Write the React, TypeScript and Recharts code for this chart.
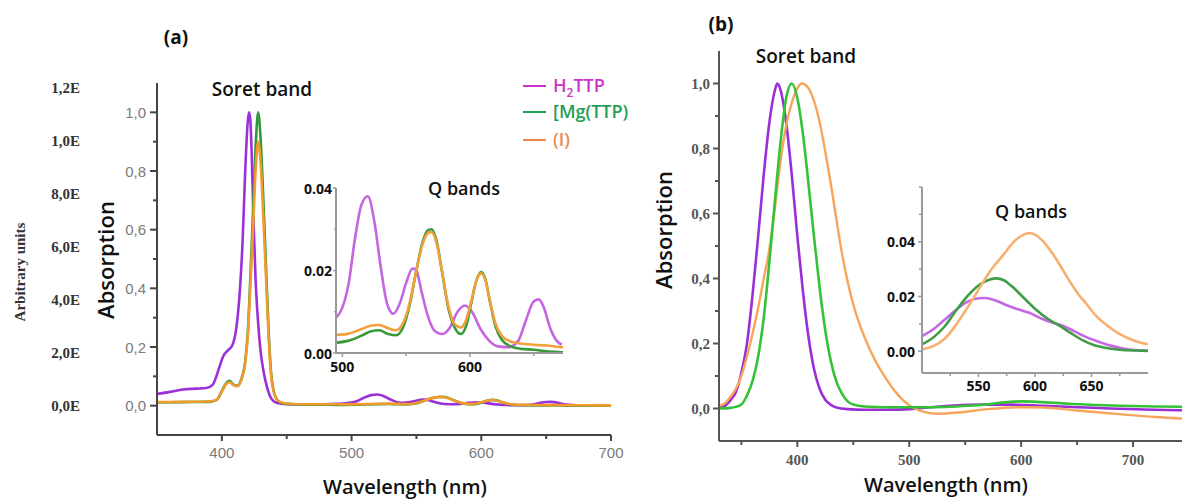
import React from "react";
import { LineChart, Line, XAxis, YAxis } from "recharts";

// ---------- panel (a), main plot: Soret region [nm, absorption] ----------
const A_SORET_H2TTP = [
  [350, 0.04], [360, 0.047], [370, 0.055], [380, 0.058], [388, 0.06], [393, 0.072],
  [398, 0.13], [401, 0.168], [405, 0.19], [408, 0.205], [411, 0.26], [414, 0.4],
  [416, 0.56], [418, 0.8], [420, 0.97], [421, 1.0], [422, 0.97], [423, 0.86],
  [424.5, 0.62], [426, 0.43], [428, 0.28], [430, 0.18], [432, 0.12], [435, 0.06],
  [438, 0.025], [442, 0.01], [450, 0.005], [470, 0.004], [488, 0.006],
];
const A_SORET_MG = [
  [350, 0.011], [370, 0.012], [390, 0.013], [396, 0.02], [400, 0.05], [403, 0.075],
  [406, 0.085], [409, 0.072], [412, 0.068], [415, 0.09], [418, 0.15], [420, 0.25],
  [422, 0.44], [424, 0.66], [426, 0.88], [428, 1.0], [430, 0.9], [432, 0.7],
  [434, 0.48], [436, 0.26], [438, 0.11], [440, 0.05], [443, 0.018], [448, 0.007],
  [460, 0.004], [480, 0.003],
];
const A_SORET_I = [
  [350, 0.012], [370, 0.013], [390, 0.014], [396, 0.02], [400, 0.048], [403, 0.072],
  [406, 0.08], [409, 0.07], [412, 0.066], [415, 0.088], [418, 0.145], [420, 0.24],
  [422, 0.41], [424, 0.6], [426, 0.8], [428, 0.9], [430, 0.82], [432, 0.64],
  [434, 0.44], [436, 0.24], [438, 0.1], [440, 0.048], [443, 0.018], [448, 0.008],
  [460, 0.005], [480, 0.005],
];

// ---------- panel (a), Q bands (inset, also the tail of the main plot) ----------
const A_Q_H2TTP = [
  [495, 0.0085], [500, 0.011], [505, 0.017], [510, 0.028], [515, 0.036], [520, 0.038],
  [525, 0.032], [530, 0.021], [535, 0.012], [540, 0.0095], [545, 0.012], [550, 0.017],
  [555, 0.0205], [558, 0.02], [562, 0.015], [567, 0.009], [572, 0.0055], [578, 0.0046],
  [584, 0.006], [590, 0.0098], [596, 0.0115], [602, 0.0098], [608, 0.006], [615, 0.003],
  [622, 0.0016], [630, 0.0014], [638, 0.003], [644, 0.008], [650, 0.0125], [654, 0.013],
  [658, 0.011], [663, 0.006], [668, 0.003], [672, 0.002],
];
const A_Q_MG = [
  [495, 0.0025], [505, 0.003], [515, 0.0042], [522, 0.0052], [529, 0.0055], [536, 0.0046],
  [542, 0.0043], [548, 0.0065], [553, 0.012], [558, 0.02], [563, 0.027], [567, 0.0298],
  [570, 0.03], [574, 0.027], [578, 0.02], [583, 0.011], [588, 0.0062], [593, 0.0046],
  [597, 0.0065], [601, 0.012], [605, 0.0175], [609, 0.0196], [612, 0.018], [616, 0.012],
  [620, 0.0065], [625, 0.0032], [632, 0.0016], [640, 0.001], [650, 0.0008], [660, 0.0004],
  [672, 0.0002], [700, 0.0],
];
const A_Q_I = [
  [495, 0.0044], [505, 0.0047], [515, 0.0058], [522, 0.0066], [529, 0.0068], [536, 0.006],
  [542, 0.0055], [548, 0.0075], [553, 0.0125], [558, 0.02], [563, 0.0265], [567, 0.029],
  [570, 0.0293], [574, 0.0265], [578, 0.02], [583, 0.0115], [588, 0.007], [593, 0.0062],
  [597, 0.008], [601, 0.0125], [605, 0.0175], [609, 0.0193], [612, 0.0178], [616, 0.0122],
  [620, 0.0072], [625, 0.0042], [632, 0.0028], [640, 0.0023], [650, 0.002], [660, 0.0018],
  [672, 0.0014], [690, 0.001], [700, 0.001],
];

// ---------- panel (b), main plot ----------
const B_H2TTP = [
  [330, 0.005], [335, 0.008], [340, 0.025], [345, 0.05], [350, 0.11], [355, 0.2],
  [360, 0.35], [365, 0.53], [370, 0.72], [375, 0.88], [380, 0.98], [382, 1.0],
  [385, 0.98], [390, 0.88], [395, 0.72], [400, 0.53], [405, 0.36], [410, 0.22],
  [415, 0.12], [420, 0.06], [425, 0.027], [430, 0.011], [435, 0.003], [445, -0.002],
  [460, -0.004], [480, -0.004], [500, -0.002], [520, 0.004], [540, 0.009], [565, 0.012],
  [590, 0.012], [620, 0.008], [650, 0.004], [680, 0.0], [710, -0.003], [750, -0.006],
];
const B_MG = [
  [330, 0.0], [340, 0.002], [345, 0.005], [350, 0.012], [355, 0.04], [360, 0.085],
  [365, 0.16], [370, 0.28], [375, 0.45], [380, 0.64], [385, 0.82], [390, 0.955],
  [395, 1.0], [400, 0.955], [405, 0.845], [410, 0.69], [415, 0.525], [420, 0.37],
  [425, 0.24], [430, 0.145], [435, 0.082], [440, 0.045], [445, 0.022], [450, 0.012],
  [460, 0.006], [480, 0.004], [520, 0.004], [560, 0.01], [600, 0.022], [640, 0.015],
  [680, 0.009], [720, 0.006], [750, 0.005],
];
const B_I = [
  [330, 0.008], [335, 0.015], [340, 0.035], [345, 0.06], [350, 0.1], [355, 0.16],
  [360, 0.23], [365, 0.31], [370, 0.4], [375, 0.49], [380, 0.62], [385, 0.76],
  [390, 0.87], [395, 0.94], [400, 0.985], [404, 1.0], [410, 0.985], [415, 0.945],
  [420, 0.88], [425, 0.79], [430, 0.69], [435, 0.58], [440, 0.475], [445, 0.39],
  [450, 0.32], [455, 0.265], [460, 0.22], [465, 0.18], [470, 0.145], [475, 0.115],
  [480, 0.088], [485, 0.063], [490, 0.042], [495, 0.024], [500, 0.01], [505, 0.0],
  [515, -0.012], [525, -0.016], [545, -0.012], [570, -0.002], [600, 0.004], [620, 0.003],
  [650, -0.006], [690, -0.018], [720, -0.026], [750, -0.032],
];

// ---------- panel (b), Q bands inset ----------
const B_Q_H2TTP = [
  [500, 0.0055], [510, 0.008], [520, 0.0115], [530, 0.015], [540, 0.018], [550, 0.0193],
  [556, 0.0194], [565, 0.0185], [575, 0.0168], [585, 0.0153], [595, 0.014], [605, 0.012],
  [615, 0.0105], [625, 0.0092], [635, 0.0072], [645, 0.0052], [655, 0.0036], [665, 0.0022],
  [675, 0.0012], [685, 0.0005], [700, 0.0002],
];
const B_Q_MG = [
  [500, 0.0025], [510, 0.005], [520, 0.009], [531, 0.0153], [540, 0.02], [550, 0.024],
  [560, 0.0262], [566, 0.0266], [572, 0.026], [580, 0.0235], [590, 0.0195], [600, 0.0155],
  [610, 0.0122], [622, 0.0092], [632, 0.0065], [642, 0.004], [652, 0.0022], [662, 0.0012],
  [675, 0.0005], [690, 0.0002], [700, 0.0001],
];
const B_Q_I = [
  [500, 0.0006], [510, 0.0018], [520, 0.0045], [530, 0.0095], [538, 0.0145], [545, 0.019],
  [553, 0.0245], [562, 0.0302], [572, 0.0352], [582, 0.0403], [590, 0.0426], [595, 0.0432],
  [600, 0.0426], [608, 0.0398], [615, 0.036], [622, 0.0315], [630, 0.026], [638, 0.021],
  [645, 0.0175], [655, 0.0125], [665, 0.009], [675, 0.0062], [688, 0.0038], [700, 0.0025],
];

// ---------- ticks ----------
const A_X_TICKS = [400, 450, 500, 550, 600, 650, 700];
const A_X_MAJOR = [400, 500, 600, 700];
const ABS_TICKS = [0, 0.1, 0.2, 0.3, 0.4, 0.5, 0.6, 0.7, 0.8, 0.9, 1.0];
const ABS_MAJOR = [0, 0.2, 0.4, 0.6, 0.8, 1.0];
const ARB_TICKS = [0, 2, 4, 6, 8, 10, 12];
const ARB_LABELS = ["0,0E", "2,0E", "4,0E", "6,0E", "8,0E", "1,0E", "1,2E"];
const B_X_TICKS = [350, 400, 450, 500, 550, 600, 650, 700, 750];
const B_X_MAJOR = [400, 500, 600, 700];
const AQ_X_TICKS = [500, 550, 600, 650];
const AQ_X_MAJOR = [500, 600];
const AQ_Y_TICKS = [0, 0.01, 0.02, 0.03, 0.04];
const BQ_X_TICKS = [525, 550, 575, 600, 625, 650, 675];
const BQ_X_MAJOR = [550, 600, 650];
const BQ_Y_TICKS = [0, 0.01, 0.02, 0.03, 0.04, 0.05, 0.06];
const Q_Y_MAJOR = [0, 0.02, 0.04];

const pts = (a: number[][]) => a.map(([x, y]) => ({ x, y }));
const comma = (v: number) => v.toFixed(1).replace(".", ",");

const SANS = "'Open Sans', 'Noto Sans', sans-serif";
const SERIF = "'Liberation Serif', 'DejaVu Serif', serif";

interface TickSpec {
  side: "left" | "bottom";
  majors: number[];
  labels?: string[];
  fmt?: (v: number) => string;
  major: number;
  minor: number;
  gap: number;
  line: string;
  lw: number;
  font: string;
  size: number;
  weight: number;
  fill: string;
}

const mkTick = (s: TickSpec) => (p: any) => {
  const v: number = p.payload.value;
  const k = s.majors.findIndex((m) => Math.abs(m - v) < 1e-6);
  const len = k >= 0 ? s.major : s.minor;
  const txt = k < 0 ? null : s.labels ? s.labels[k] : s.fmt ? s.fmt(v) : String(v);
  const t = { fontFamily: s.font, fontSize: s.size, fontWeight: s.weight, fill: s.fill };
  if (s.side === "left") {
    return (
      <g>
        {len > 0 && <line x1={p.x - len} x2={p.x} y1={p.y} y2={p.y} stroke={s.line} strokeWidth={s.lw} />}
        {txt && (
          <text x={p.x - len - s.gap} y={p.y} textAnchor="end" dominantBaseline="central" {...t}>
            {txt}
          </text>
        )}
      </g>
    );
  }
  return (
    <g>
      {len > 0 && <line x1={p.x} x2={p.x} y1={p.y} y2={p.y + len} stroke={s.line} strokeWidth={s.lw} />}
      {txt && (
        <text x={p.x} y={p.y + s.gap} textAnchor="middle" dominantBaseline="central" {...t}>
          {txt}
        </text>
      )}
    </g>
  );
};

const A_COL = { h2: "#9b30d8", mg: "#2f9a3a", i: "#f29a2e" };
const AQ_COL = { h2: "#c466e2", mg: "#3a9a3a", i: "#f2a03c" };
const B_COL = { h2: "#9a2fd8", mg: "#36c236", i: "#f7a55c" };
const BQ_COL = { h2: "#c468e6", mg: "#3f9e45", i: "#f6b070" };

const lineProps = { type: "monotone" as const, dataKey: "y", dot: false, isAnimationActive: false };

function PanelA() {
  return (
    <div style={{ position: "absolute", left: 0, top: 0 }}>
      <LineChart width={640} height={502} margin={{ top: 83, right: 29, bottom: 37, left: 0 }}>
        <XAxis
          type="number"
          dataKey="x"
          domain={[350, 700]}
          ticks={A_X_TICKS}
          interval={0}
          height={30}
          allowDataOverflow
          tickSize={0}
          tickMargin={0}
          tickLine={false}
          axisLine={{ stroke: "#444", strokeWidth: 2 }}
          tick={mkTick({ side: "bottom", majors: A_X_MAJOR, major: 6, minor: 4, gap: 17, line: "#444", lw: 2, font: "'Liberation Sans', Arial, sans-serif", size: 15, weight: 400, fill: "#7a7a7a" })}
        />
        <YAxis
          yAxisId="abs"
          type="number"
          domain={[-0.1, 1.1]}
          ticks={ABS_TICKS}
          interval={0}
          width={60}
          allowDataOverflow
          tickSize={0}
          tickMargin={0}
          tickLine={false}
          axisLine={{ stroke: "#444", strokeWidth: 2 }}
          tick={mkTick({ side: "left", majors: ABS_MAJOR, fmt: comma, major: 7, minor: 4, gap: 4, line: "#444", lw: 2, font: "'Liberation Sans', Arial, sans-serif", size: 15, weight: 400, fill: "#7a7a7a" })}
        />
        <YAxis
          yAxisId="arb"
          type="number"
          domain={[-1.094, 12.19]}
          ticks={ARB_TICKS}
          interval={0}
          width={97}
          allowDataOverflow
          tickSize={0}
          tickMargin={0}
          tickLine={false}
          axisLine={false}
          tick={mkTick({ side: "left", majors: ARB_TICKS, labels: ARB_LABELS, major: 0, minor: 0, gap: 17, line: "none", lw: 0, font: SERIF, size: 15, weight: 700, fill: "#333" })}
        />
        <Line yAxisId="abs" data={pts([...A_SORET_H2TTP, ...A_Q_H2TTP])} stroke={A_COL.h2} strokeWidth={2.6} {...lineProps} />
        <Line yAxisId="abs" data={pts([...A_SORET_MG, ...A_Q_MG])} stroke={A_COL.mg} strokeWidth={2.6} {...lineProps} />
        <Line yAxisId="abs" data={pts([...A_SORET_I, ...A_Q_I])} stroke={A_COL.i} strokeWidth={2.6} {...lineProps} />
      </LineChart>
    </div>
  );
}

function InsetA() {
  return (
    <div style={{ position: "absolute", left: 290, top: 160 }}>
      <LineChart width={290} height={220} margin={{ top: 28, right: 17, bottom: 7, left: 0 }}>
        <XAxis
          type="number"
          dataKey="x"
          domain={[495, 673]}
          ticks={AQ_X_TICKS}
          interval={0}
          height={20}
          allowDataOverflow
          tickSize={0}
          tickMargin={0}
          tickLine={false}
          axisLine={{ stroke: "#9a9a9a", strokeWidth: 2 }}
          tick={mkTick({ side: "bottom", majors: AQ_X_MAJOR, major: 4, minor: 3, gap: 13, line: "#9a9a9a", lw: 1.5, font: SANS, size: 14, weight: 700, fill: "#111" })}
        />
        <YAxis
          type="number"
          domain={[0, 0.04]}
          ticks={AQ_Y_TICKS}
          interval={0}
          width={46}
          allowDataOverflow
          tickSize={0}
          tickMargin={0}
          tickLine={false}
          axisLine={{ stroke: "#9a9a9a", strokeWidth: 2 }}
          tick={mkTick({ side: "left", majors: Q_Y_MAJOR, fmt: (v) => v.toFixed(2), major: 3, minor: 2, gap: 1, line: "#9a9a9a", lw: 1.5, font: SANS, size: 14, weight: 700, fill: "#111" })}
        />
        <Line data={pts(A_Q_H2TTP)} stroke={AQ_COL.h2} strokeWidth={2.6} {...lineProps} />
        <Line data={pts(A_Q_MG)} stroke={AQ_COL.mg} strokeWidth={2.6} {...lineProps} />
        <Line data={pts(A_Q_I)} stroke={AQ_COL.i} strokeWidth={2.6} {...lineProps} />
      </LineChart>
    </div>
  );
}

function PanelB() {
  return (
    <div style={{ position: "absolute", left: 640, top: 0 }}>
      <LineChart width={580} height={502} margin={{ top: 51, right: 31, bottom: 31, left: 0 }}>
        <XAxis
          type="number"
          dataKey="x"
          domain={[330, 750]}
          ticks={B_X_TICKS}
          interval={0}
          height={30}
          allowDataOverflow
          tickSize={0}
          tickMargin={0}
          tickLine={false}
          axisLine={{ stroke: "#555", strokeWidth: 2 }}
          tick={mkTick({ side: "bottom", majors: B_X_MAJOR, major: 6, minor: 4, gap: 19, line: "#555", lw: 2, font: SERIF, size: 15, weight: 700, fill: "#555" })}
        />
        <YAxis
          type="number"
          domain={[-0.1, 1.1]}
          ticks={ABS_TICKS}
          interval={0}
          width={79}
          allowDataOverflow
          tickSize={0}
          tickMargin={0}
          tickLine={false}
          axisLine={{ stroke: "#555", strokeWidth: 2 }}
          tick={mkTick({ side: "left", majors: ABS_MAJOR, fmt: comma, major: 6, minor: 4, gap: 3, line: "#555", lw: 2, font: SERIF, size: 15, weight: 700, fill: "#555" })}
        />
        <Line data={pts(B_H2TTP)} stroke={B_COL.h2} strokeWidth={2.6} {...lineProps} />
        <Line data={pts(B_I)} stroke={B_COL.i} strokeWidth={2.4} {...lineProps} />
        <Line data={pts(B_MG)} stroke={B_COL.mg} strokeWidth={2.6} {...lineProps} />
      </LineChart>
    </div>
  );
}

function InsetB() {
  return (
    <div style={{ position: "absolute", left: 870, top: 160 }}>
      <LineChart width={300} height={240} margin={{ top: 27, right: 22, bottom: 5, left: 0 }}>
        <XAxis
          type="number"
          dataKey="x"
          domain={[500, 700]}
          ticks={BQ_X_TICKS}
          interval={0}
          height={22}
          allowDataOverflow
          tickSize={0}
          tickMargin={0}
          tickLine={false}
          axisLine={{ stroke: "#9a9a9a", strokeWidth: 2 }}
          tick={mkTick({ side: "bottom", majors: BQ_X_MAJOR, major: 4, minor: 3, gap: 12, line: "#9a9a9a", lw: 1.5, font: SANS, size: 14, weight: 700, fill: "#111" })}
        />
        <YAxis
          type="number"
          domain={[-0.008, 0.06]}
          ticks={BQ_Y_TICKS}
          interval={0}
          width={52}
          allowDataOverflow
          tickSize={0}
          tickMargin={0}
          tickLine={false}
          axisLine={{ stroke: "#9a9a9a", strokeWidth: 2 }}
          tick={mkTick({ side: "left", majors: Q_Y_MAJOR, fmt: (v) => v.toFixed(2), major: 4, minor: 3, gap: 3, line: "#9a9a9a", lw: 1.5, font: SANS, size: 14, weight: 700, fill: "#111" })}
        />
        <Line data={pts(B_Q_H2TTP)} stroke={BQ_COL.h2} strokeWidth={2.6} {...lineProps} />
        <Line data={pts(B_Q_MG)} stroke={BQ_COL.mg} strokeWidth={2.6} {...lineProps} />
        <Line data={pts(B_Q_I)} stroke={BQ_COL.i} strokeWidth={2.6} {...lineProps} />
      </LineChart>
    </div>
  );
}

function Annotations() {
  const title = { fontFamily: SANS, fontWeight: 600, fill: "#111" };
  const leg = { fontFamily: SANS, fontWeight: 600, fontSize: 18 };
  return (
    <svg width={1182} height={502} style={{ position: "absolute", left: 0, top: 0, pointerEvents: "none" }}>
      <text x={176} y={44} textAnchor="middle" fontSize={19} {...title} fontWeight={700}>(a)</text>
      <text x={721} y={31} textAnchor="middle" fontSize={19} {...title} fontWeight={700}>(b)</text>
      <text x={262} y={96} textAnchor="middle" fontSize={19} {...title}>Soret band</text>
      <text x={806} y={63} textAnchor="middle" fontSize={19} {...title}>Soret band</text>
      <text x={464} y={195} textAnchor="middle" fontSize={18} {...title}>Q bands</text>
      <text x={1031} y={218} textAnchor="middle" fontSize={18} {...title}>Q bands</text>
      <text x={405} y={494} textAnchor="middle" fontSize={20} {...title}>Wavelength (nm)</text>
      <text x={946} y={492} textAnchor="middle" fontSize={20} {...title}>Wavelength (nm)</text>
      <text transform="translate(114,260) rotate(-90)" textAnchor="middle" fontSize={22} {...title}>Absorption</text>
      <text transform="translate(672,230) rotate(-90)" textAnchor="middle" fontSize={22} {...title}>Absorption</text>
      <text transform="translate(25,272) rotate(-90)" textAnchor="middle" fontSize={15} fontFamily={SERIF} fontWeight={700} fill="#333">Arbitrary units</text>
      <line x1={523} x2={546} y1={86} y2={86} stroke="#cc33cc" strokeWidth={2} />
      <text x={553} y={92} fill="#cc33cc" {...leg}>
        H<tspan dy={5} fontSize={12}>2</tspan><tspan dy={-5}>TTP</tspan>
      </text>
      <line x1={523} x2={546} y1={112} y2={112} stroke="#1f9e55" strokeWidth={2} />
      <text x={553} y={118} fill="#1f9e55" {...leg}>[Mg(TTP)</text>
      <line x1={523} x2={546} y1={140} y2={140} stroke="#ec8a4c" strokeWidth={2} />
      <text x={553} y={146} fill="#ec8a4c" {...leg}>(I)</text>
    </svg>
  );
}

export default function App() {
  return (
    <div style={{ position: "absolute", left: 0, top: 0, width: 1182, height: 502, overflow: "hidden", background: "#fff" }}>
      <PanelA />
      <InsetA />
      <PanelB />
      <InsetB />
      <Annotations />
    </div>
  );
}
